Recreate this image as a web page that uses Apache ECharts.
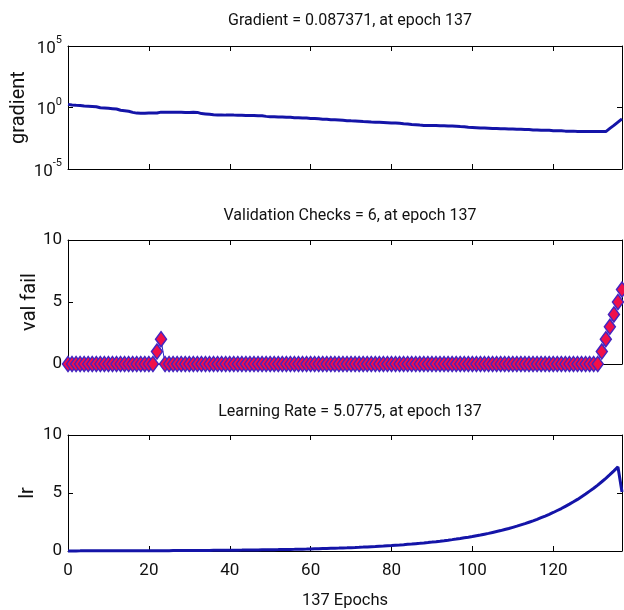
<!DOCTYPE html>
<html>
<head>
<meta charset="utf-8">
<script src="https://cdn.jsdelivr.net/npm/echarts@6/dist/echarts.min.js"></script>
<style>html,body{margin:0;padding:0;background:#fff}#c{width:624px;height:610px}</style>
</head>
<body>
<div id="c"></div>
<script>
// ---- data (one value per epoch 0..137) ----
const epochMax = 137;
const xTicks = [0, 20, 40, 60, 80, 100, 120];
const titles = [
  'Gradient = 0.087371, at epoch 137',
  'Validation Checks = 6, at epoch 137',
  'Learning Rate = 5.0775, at epoch 137'
];
const yNames = ['gradient', 'val fail', 'lr'];
const xName = '137 Epochs';

const gradient = [
  1.8,
  1.6, 1.5, 1.45,
  1.3, 1.25, 1.2, 1.15,
  0.95, 0.9, 0.85, 0.8, 0.75,
  0.6, 0.55, 0.5, 0.4, 0.35,
  0.34, 0.34, 0.35, 0.35, 0.36,
  0.42, 0.42, 0.41, 0.41, 0.42, 0.41, 0.40, 0.40, 0.41, 0.40,
  0.32, 0.30, 0.28, 0.26,
  0.25, 0.25, 0.24, 0.24, 0.24, 0.23, 0.23, 0.22, 0.22, 0.22, 0.21, 0.21,
  0.19, 0.18, 0.18, 0.17, 0.17, 0.16, 0.16,
  0.15, 0.15, 0.14, 0.14, 0.13, 0.13, 0.12,
  0.11, 0.11, 0.10, 0.10, 0.095, 0.09, 0.085,
  0.082, 0.08, 0.076, 0.072, 0.07, 0.066,
  0.064, 0.062, 0.06, 0.058, 0.056, 0.054, 0.052,
  0.048, 0.045, 0.042, 0.04, 0.037, 0.035,
  0.035, 0.034, 0.034, 0.033, 0.033, 0.032, 0.032,
  0.030, 0.028, 0.027, 0.025, 0.024, 0.023,
  0.022, 0.022, 0.021, 0.020, 0.020, 0.019, 0.019,
  0.018, 0.018, 0.017, 0.017, 0.016, 0.016,
  0.015, 0.015, 0.014, 0.014, 0.014, 0.013, 0.013, 0.013,
  0.012, 0.012, 0.012, 0.011, 0.011, 0.011, 0.011, 0.011, 0.011, 0.011, 0.011,
  0.02, 0.035, 0.065, 0.12
];

const valFail = [
  0, 0, 0, 0, 0, 0, 0, 0, 0, 0,
  0, 0, 0, 0, 0, 0, 0, 0, 0, 0,
  0, 0, 1, 2, 0, 0, 0, 0, 0, 0,
  0, 0, 0, 0, 0, 0, 0, 0, 0, 0,
  0, 0, 0, 0, 0, 0, 0, 0, 0, 0,
  0, 0, 0, 0, 0, 0, 0, 0, 0, 0,
  0, 0, 0, 0, 0, 0, 0, 0, 0, 0,
  0, 0, 0, 0, 0, 0, 0, 0, 0, 0,
  0, 0, 0, 0, 0, 0, 0, 0, 0, 0,
  0, 0, 0, 0, 0, 0, 0, 0, 0, 0,
  0, 0, 0, 0, 0, 0, 0, 0, 0, 0,
  0, 0, 0, 0, 0, 0, 0, 0, 0, 0,
  0, 0, 0, 0, 0, 0, 0, 0, 0, 0,
  0, 0, 1, 2, 3, 4, 5, 6
];

const learningRate = [
  0.0100, 0.0100, 0.0105, 0.0110, 0.0116, 0.0122, 0.0128, 0.0134, 0.0141, 0.0148,
  0.0155, 0.0163, 0.0171, 0.0180, 0.0189, 0.0198, 0.0208, 0.0218, 0.0229, 0.0241,
  0.0253, 0.0265, 0.0279, 0.0293, 0.0307, 0.0323, 0.0339, 0.0356, 0.0373, 0.0392,
  0.0412, 0.0432, 0.0454, 0.0476, 0.0500, 0.0525, 0.0552, 0.0579, 0.0608, 0.0639,
  0.0670, 0.0704, 0.0739, 0.0776, 0.0815, 0.0856, 0.0899, 0.0943, 0.0991, 0.104,
  0.109, 0.115, 0.120, 0.126, 0.133, 0.139, 0.146, 0.154, 0.161, 0.169,
  0.178, 0.187, 0.196, 0.206, 0.216, 0.227, 0.238, 0.250, 0.263, 0.276,
  0.290, 0.304, 0.319, 0.335, 0.352, 0.370, 0.388, 0.408, 0.428, 0.450,
  0.472, 0.496, 0.520, 0.546, 0.574, 0.602, 0.633, 0.664, 0.697, 0.732,
  0.769, 0.807, 0.848, 0.890, 0.935, 0.981, 1.03, 1.08, 1.14, 1.19,
  1.25, 1.32, 1.38, 1.45, 1.52, 1.60, 1.68, 1.76, 1.85, 1.94,
  2.04, 2.14, 2.25, 2.36, 2.48, 2.60, 2.73, 2.87, 3.01, 3.16,
  3.32, 3.49, 3.66, 3.85, 4.04, 4.24, 4.45, 4.68, 4.91, 5.16,
  5.41, 5.68, 5.97, 6.27, 6.58, 6.91, 7.25, 5.08
];

// ---- chart ----
const FONT = 'Roboto, "Liberation Sans", sans-serif';
const LINE = '#1414a8';
const grids = [
  { left: 68, right: 2, top: 46, height: 123 },
  { left: 68, right: 2, top: 240, height: 124 },
  { left: 68, right: 2, top: 435, height: 122 }
];
const toPairs = arr => arr.map((v, i) => [i, v]);

const axisLine = { show: true, onZero: false, lineStyle: { color: '#000', width: 1 } };
const tick = { show: true, inside: true, length: 5, lineStyle: { color: '#000', width: 1 } };
const txt = (fs) => ({ fontFamily: FONT, fontSize: fs, fontWeight: 'normal', color: '#111' });

const xAxes = [], yAxes = [];
grids.forEach((g, i) => {
  const last = i === 2;
  xAxes.push({
    gridIndex: i, type: 'value', position: 'bottom', min: 0, max: epochMax, interval: 20,
    axisLine, axisTick: tick, splitLine: { show: false },
    axisLabel: Object.assign({ show: last, margin: 11, showMaxLabel: false,
      formatter: v => (xTicks.indexOf(v) >= 0 ? String(v) : '') }, txt(17)),
    name: last ? xName : '', nameLocation: 'middle', nameGap: 41, nameMoveOverlap: false,
    nameTextStyle: txt(16.5)
  });
  xAxes.push({
    gridIndex: i, type: 'value', position: 'top', min: 0, max: epochMax, interval: 20,
    axisLine, axisTick: tick, axisLabel: { show: false }, splitLine: { show: false }
  });
});

const supLabel = Object.assign({ margin: 6,
  formatter: v => '{b|10}{s|' + Math.round(Math.log10(v)) + '}',
  rich: {
    b: Object.assign({ verticalAlign: 'bottom', lineHeight: 22 }, txt(17)),
    s: Object.assign({ verticalAlign: 'top', lineHeight: 12 }, txt(11))
  }
}, txt(17));

// panel 1: log axis
yAxes.push({ gridIndex: 0, type: 'log', logBase: 10, min: 1e-5, max: 1e5, splitNumber: 2,
  position: 'left', axisLine, axisTick: tick, splitLine: { show: false }, axisLabel: supLabel,
  name: yNames[0], nameLocation: 'middle', nameGap: 39, nameMoveOverlap: false, nameTextStyle: txt(20) });
yAxes.push({ gridIndex: 0, type: 'log', logBase: 10, min: 1e-5, max: 1e5, splitNumber: 2,
  position: 'right', axisLine, axisTick: tick, splitLine: { show: false }, axisLabel: { show: false } });
// panels 2 and 3
[1, 2].forEach(i => {
  yAxes.push({ gridIndex: i, type: 'value', min: 0, max: 10, interval: 5, position: 'left',
    axisLine, axisTick: tick, splitLine: { show: false },
    axisLabel: Object.assign({ margin: 6 }, txt(17)),
    name: yNames[i], nameLocation: 'middle', nameGap: i === 1 ? 28 : 30, nameMoveOverlap: false,
    nameTextStyle: txt(20) });
  yAxes.push({ gridIndex: i, type: 'value', min: 0, max: 10, interval: 5, position: 'right',
    axisLine, axisTick: tick, splitLine: { show: false }, axisLabel: { show: false } });
});

const titleTops = [8, 203, 399];
const option = {
  backgroundColor: '#fff',
  animation: false,
  title: titles.map((t, i) => ({
    text: t, left: 345, top: titleTops[i], textAlign: 'center',
    textStyle: txt(16)
  })),
  grid: grids,
  xAxis: xAxes,
  yAxis: yAxes,
  series: [
    { type: 'line', xAxisIndex: 0, yAxisIndex: 0, data: toPairs(gradient),
      showSymbol: false, lineStyle: { color: LINE, width: 3 }, z: 3 },
    { type: 'line', xAxisIndex: 2, yAxisIndex: 2, data: toPairs(valFail), clip: false,
      symbol: 'diamond', symbolSize: [11, 15], showSymbol: true,
      lineStyle: { color: '#2828c8', width: 1 },
      itemStyle: { color: '#f0104a', borderColor: '#4424c0', borderWidth: 1.5 }, z: 3 },
    { type: 'line', xAxisIndex: 4, yAxisIndex: 4, data: toPairs(learningRate), clip: false,
      showSymbol: false, lineStyle: { color: LINE, width: 3 }, z: 3 }
  ]
};
const chart = echarts.init(document.getElementById('c'), null, { renderer: 'canvas' });
chart.setOption(option);
</script>
</body>
</html>
